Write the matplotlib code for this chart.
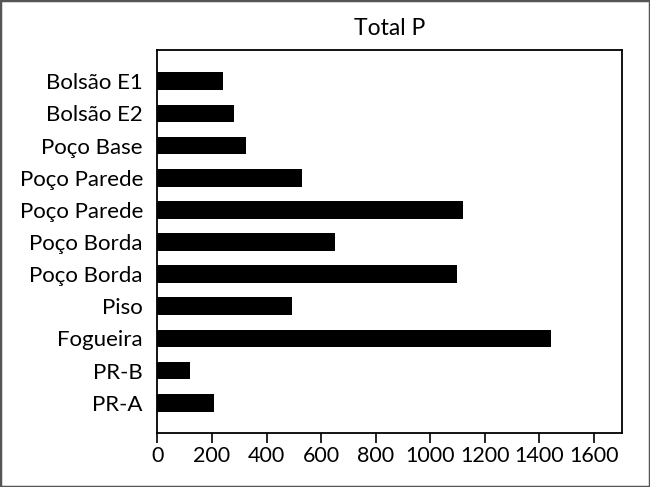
import numpy as np
import matplotlib.pyplot as plt
from matplotlib.patches import Rectangle

plt.rcParams['font.family'] = ['Lato', 'DejaVu Sans']

categories = ['Bolsão E1', 'Bolsão E2', 'Poço Base', 'Poço Parede', 'Poço Parede',
              'Poço Borda', 'Poço Borda', 'Piso', 'Fogueira', 'PR-B', 'PR-A']
values = [241, 281, 323, 529, 1119, 651, 1098, 492, 1443, 121, 209]
xticks = [0, 200, 400, 600, 800, 1000, 1200, 1400, 1600]

fig = plt.figure(figsize=(6.5, 4.87), dpi=100)
ax = fig.add_axes([0.2423, 0.1109, 0.7146, 0.7864])

pos = np.arange(len(categories))[::-1]
ax.barh(pos, values, height=0.55, color='black')

ax.set_xlim(0, 1704)
ax.set_ylim(-0.94, 10.97)
ax.set_yticks(pos)
ax.set_yticklabels(categories, fontsize=16)
ax.set_xticks(xticks)
ax.tick_params(axis='x', labelsize=15.5, length=7, width=1.2, direction='out', pad=2.5)
ax.tick_params(axis='y', length=0, pad=10.5)
for s in ax.spines.values():
    s.set_linewidth(1.3)
ax.set_title('Total P', fontsize=16.5, pad=11)

fig.patches.append(Rectangle((0, 0), 1, 1, transform=fig.transFigure, fill=False,
                             edgecolor='#555555', linewidth=2.5))

fig.savefig('out.png', dpi=100)
